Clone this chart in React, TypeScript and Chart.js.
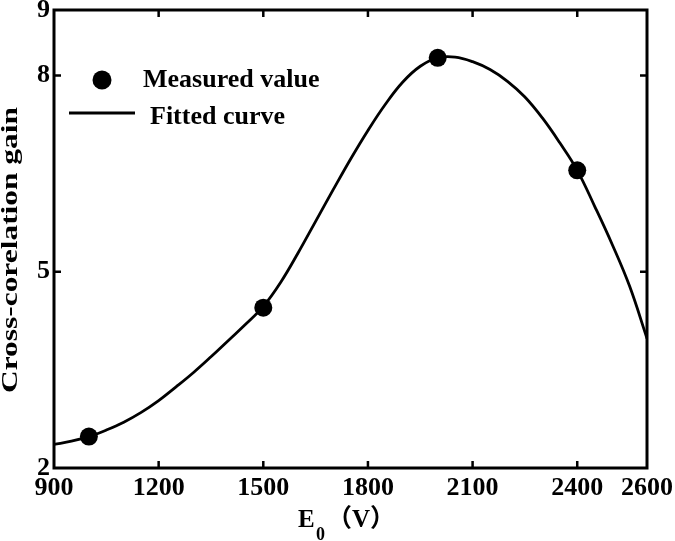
import React, { useEffect, useRef } from "react";
import { Chart, registerables } from "chart.js";

Chart.register(...registerables);

// ---- data ----
const xTicks = [900, 1200, 1500, 1800, 2100, 2400, 2600];
const yTicks = [2, 5, 8, 9];

const measuredX = [1000, 1500, 2000, 2400];
const measuredY = [2.48, 4.45, 8.27, 6.55];

const fittedX = [
  900, 950, 1000, 1050, 1100, 1150, 1200, 1250, 1300, 1350, 1400, 1450, 1500,
  1550, 1600, 1650, 1700, 1750, 1800, 1850, 1900, 1950, 2000, 2050, 2100, 2150,
  2200, 2250, 2300, 2350, 2400, 2450, 2500, 2550, 2600,
];
const fittedY = [
  2.36, 2.41, 2.48, 2.58, 2.7, 2.85, 3.03, 3.24, 3.46, 3.7, 3.95, 4.2, 4.47,
  4.84, 5.29, 5.77, 6.25, 6.72, 7.16, 7.56, 7.9, 8.14, 8.27, 8.28, 8.21, 8.09,
  7.91, 7.67, 7.35, 6.97, 6.55, 6.0, 5.42, 4.78, 3.98,
];

const seriesLabels = ["Measured value", "Fitted curve"];
const yTitle = "Cross-corelation gain";
const xTitleMain = "E";
const xTitleSub = "0";
const xTitleUnit = "（V）";

const SERIF = "'Liberation Serif', 'Times New Roman', serif";

const decorPlugin = {
  id: "decor",
  afterDatasetsDraw(chart: any) {
    const { ctx, chartArea } = chart;
    const { left, right, top, bottom } = chartArea;
    const xs = chart.scales.x;
    const ys = chart.scales.y;
    ctx.save();
    ctx.strokeStyle = "#000";
    ctx.fillStyle = "#000";
    // frame
    ctx.lineWidth = 3;
    ctx.strokeRect(left, top, right - left, bottom - top);
    // inner ticks
    ctx.lineWidth = 2.5;
    const tl = 7;
    ctx.beginPath();
    xTicks.slice(1, -1).forEach((v) => {
      const px = xs.getPixelForValue(v);
      ctx.moveTo(px, bottom);
      ctx.lineTo(px, bottom - tl);
      ctx.moveTo(px, top);
      ctx.lineTo(px, top + tl);
    });
    yTicks.slice(1, -1).forEach((v) => {
      const py = ys.getPixelForValue(v);
      ctx.moveTo(left, py);
      ctx.lineTo(left + tl, py);
      ctx.moveTo(right, py);
      ctx.lineTo(right - tl, py);
    });
    ctx.stroke();

    // legend
    ctx.beginPath();
    ctx.arc(102, 80, 9.5, 0, Math.PI * 2);
    ctx.fill();
    ctx.font = `bold 26px ${SERIF}`;
    ctx.textAlign = "left";
    ctx.textBaseline = "alphabetic";
    ctx.fillText(seriesLabels[0], 143, 87);
    ctx.lineWidth = 3;
    ctx.beginPath();
    ctx.moveTo(69, 113);
    ctx.lineTo(135, 113);
    ctx.stroke();
    ctx.fillText(seriesLabels[1], 150, 124);

    // y title
    ctx.save();
    ctx.font = `bold 24px ${SERIF}`;
    ctx.translate(11, 250);
    ctx.rotate(-Math.PI / 2);
    const w = ctx.measureText(yTitle).width;
    ctx.scale(286 / w, 1);
    ctx.textAlign = "center";
    ctx.textBaseline = "middle";
    ctx.fillText(yTitle, 0, 0);
    ctx.restore();

    // x title
    ctx.textAlign = "left";
    ctx.textBaseline = "alphabetic";
    ctx.font = `bold 25px ${SERIF}`;
    ctx.fillText(xTitleMain, 298, 527);
    ctx.font = `bold 18px ${SERIF}`;
    ctx.fillText(xTitleSub, 316, 540);
    ctx.font = `bold 25px 'Liberation Serif', 'Noto Sans CJK SC', serif`;
    const wp = ctx.measureText("（").width;
    ctx.fillText(xTitleUnit, 352 - wp, 527);
    ctx.restore();
  },
};

export default function App() {
  const ref = useRef<HTMLCanvasElement | null>(null);
  useEffect(() => {
    if (!ref.current) return;
    const tickFont = { family: SERIF, weight: "bold" as const, size: 26 };
    const chart = new Chart(ref.current, {
      type: "line",
      data: {
        datasets: [
          {
            label: seriesLabels[0],
            data: measuredX.map((x, i) => ({ x, y: measuredY[i] })),
            showLine: false,
            pointRadius: 9,
            pointBackgroundColor: "#000",
            pointBorderWidth: 0,
            borderColor: "#000",
            backgroundColor: "#000",
            order: 0,
          },
          {
            label: seriesLabels[1],
            data: fittedX.map((x, i) => ({ x, y: fittedY[i] })),
            borderColor: "#000",
            borderWidth: 2.8,
            pointRadius: 0,
            tension: 0.4,
            fill: false,
            order: 1,
          },
        ],
      },
      options: {
        responsive: false,
        animation: false,
        layout: { padding: { left: 0, top: 10, right: 28, bottom: 0 } },
        plugins: { legend: { display: false }, tooltip: { enabled: false } },
        scales: {
          x: {
            type: "linear",
            min: 900,
            max: 2600,
            afterBuildTicks: (s: any) => {
              s.ticks = xTicks.map((v) => ({ value: v }));
            },
            afterFit: (s: any) => {
              s.height = 73;
              s.paddingLeft = 0;
              s.paddingRight = 0;
            },
            grid: { display: false, drawTicks: false },
            border: { display: false },
            ticks: {
              font: tickFont,
              color: "#000",
              padding: 5,
              maxRotation: 0,
              autoSkip: false,
              callback: (v: any) => String(v),
            },
          },
          y: {
            type: "linear",
            min: 2,
            max: 9,
            afterBuildTicks: (s: any) => {
              s.ticks = yTicks.map((v) => ({ value: v }));
            },
            afterFit: (s: any) => {
              s.width = 54;
              s.paddingTop = 0;
              s.paddingBottom = 0;
            },
            grid: { display: false, drawTicks: false },
            border: { display: false },
            ticks: {
              font: tickFont,
              color: "#000",
              padding: 4,
              autoSkip: false,
              callback: (v: any) => String(v),
            },
          },
        },
      },
      plugins: [decorPlugin],
    });
    return () => chart.destroy();
  }, []);
  return (
    <div style={{ position: "absolute", left: 0, top: 0, width: 675, height: 541, background: "#fff" }}>
      <canvas ref={ref} width={675} height={541} style={{ display: "block" }} />
    </div>
  );
}
